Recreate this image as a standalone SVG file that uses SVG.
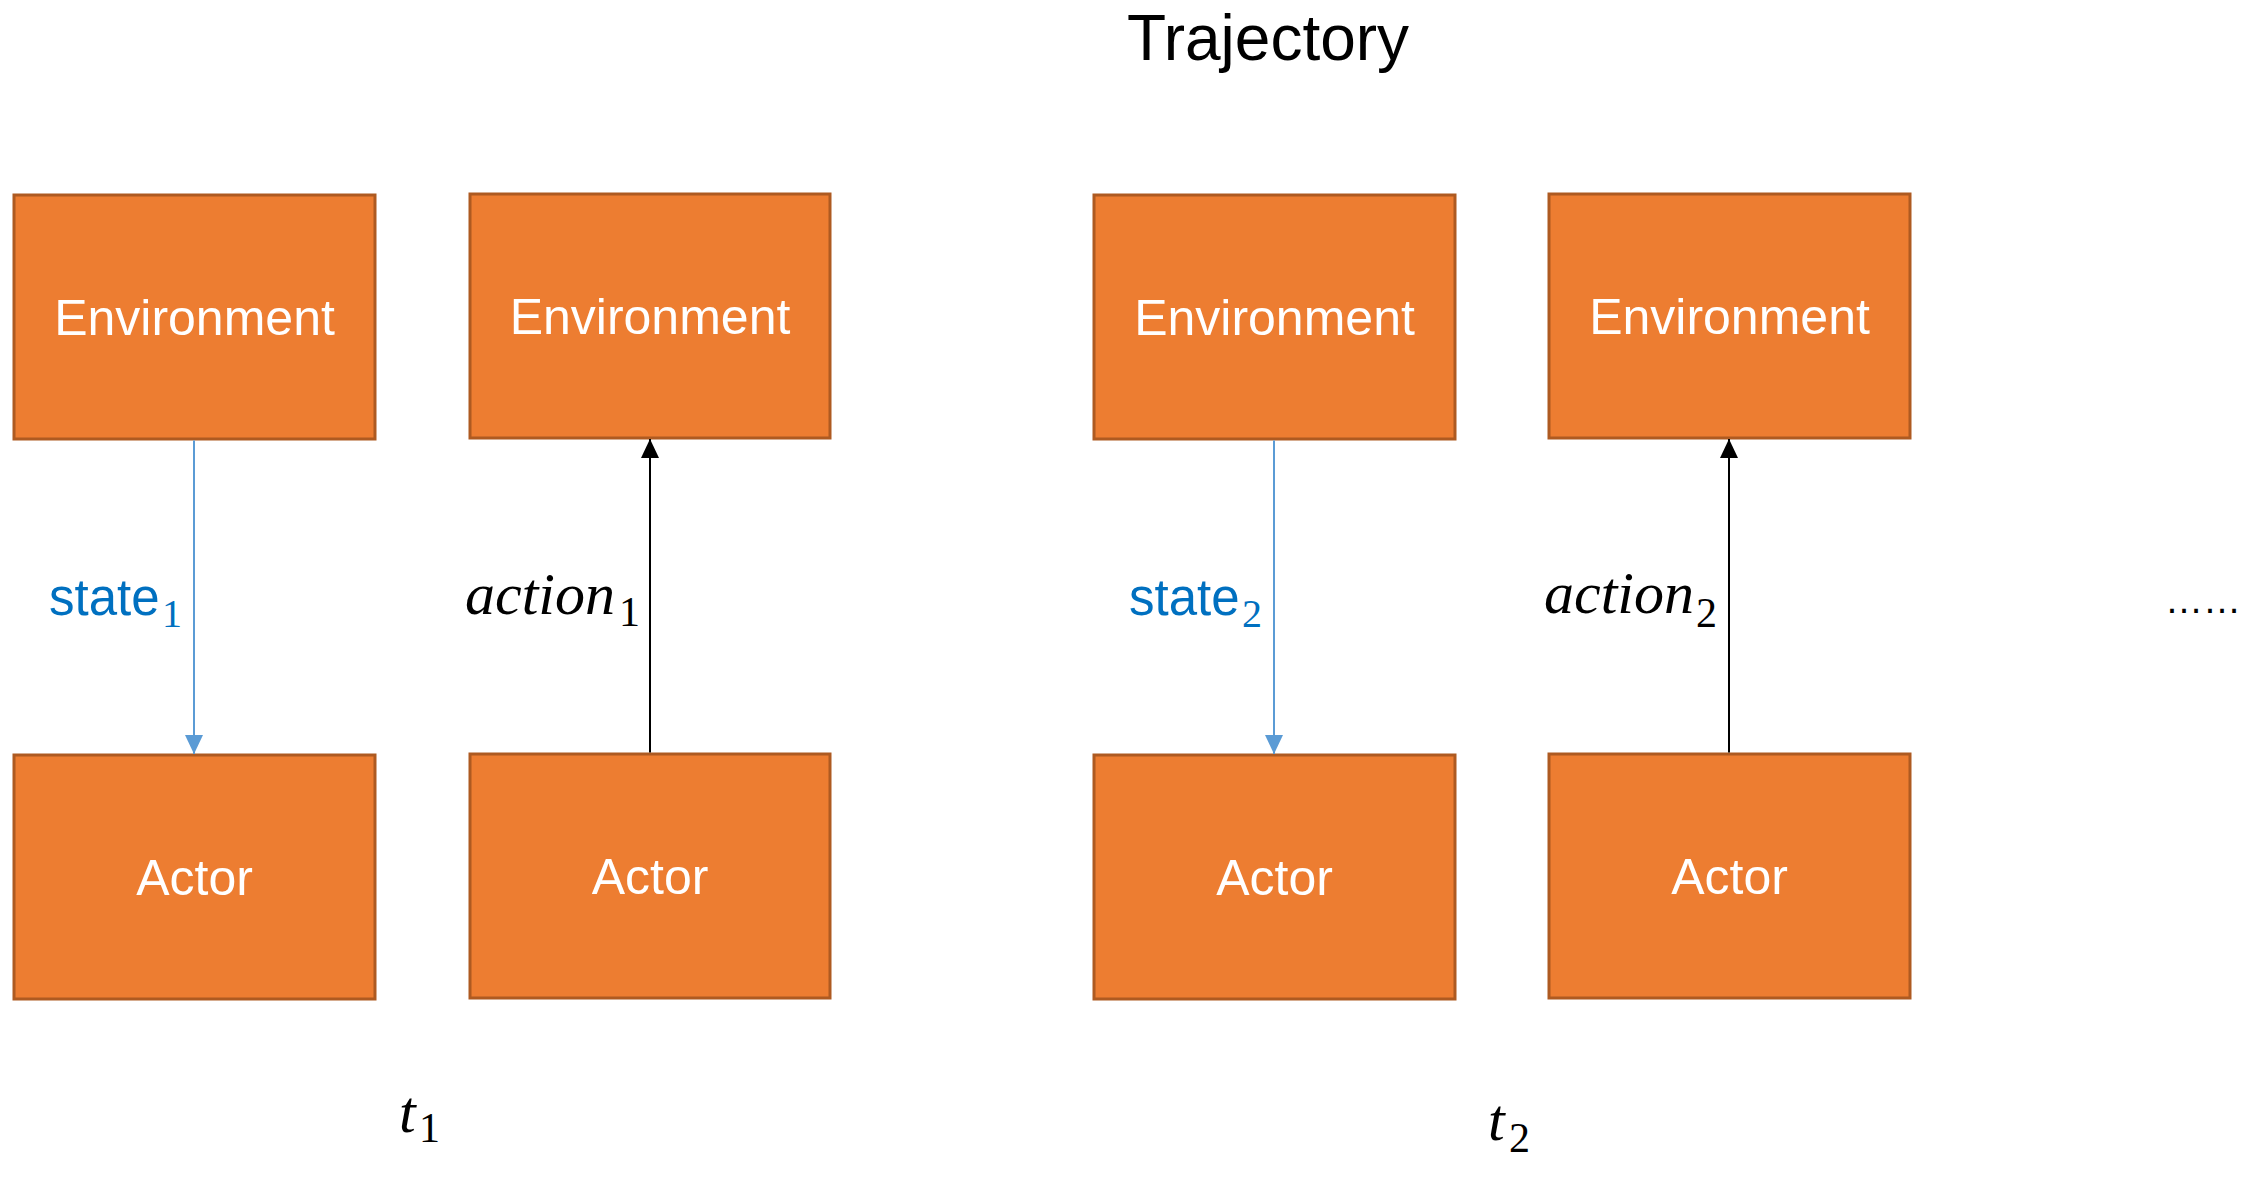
<svg xmlns="http://www.w3.org/2000/svg" width="2245" height="1180" viewBox="0 0 2245 1180">
<defs>
<style>
.box{fill:#ed7d31;stroke:#ae5a21;stroke-width:3}
.lbl{font-family:"Liberation Sans",Arial,sans-serif;font-size:50px;fill:#ffffff;text-anchor:middle}
.st{font-family:"Liberation Sans",Arial,sans-serif;font-size:51px;fill:#0070c0}
.math{font-family:"Liberation Serif","Times New Roman",serif;font-style:italic;font-size:60px;fill:#000000}
.sub{font-family:"Liberation Serif","Times New Roman",serif;font-style:normal;font-size:42px}
.ssub{font-family:"Liberation Serif","Times New Roman",serif;font-size:40px;fill:#0070c0}
.blue{stroke:#5b9bd5;stroke-width:2;fill:none}
.black{stroke:#000000;stroke-width:2;fill:none}
</style>
<marker id="ab" markerUnits="userSpaceOnUse" markerWidth="20" markerHeight="20" viewBox="0 0 20 20" refX="19" refY="10" orient="auto">
<path d="M0,1 L19,10 L0,19 Z" fill="#5b9bd5"/>
</marker>
<marker id="ak" markerUnits="userSpaceOnUse" markerWidth="20" markerHeight="20" viewBox="0 0 20 20" refX="19" refY="10" orient="auto">
<path d="M0,1 L19,10 L0,19 Z" fill="#000000"/>
</marker>
</defs>
<rect width="2245" height="1180" fill="#ffffff"/>
<text x="1268" y="60" font-family="'Liberation Sans',Arial,sans-serif" font-size="64" text-anchor="middle" fill="#000">Trajectory</text>

<g id="env1"><rect class="box" x="14" y="195" width="361" height="244"/><text class="lbl" x="194.5" y="335">Environment</text></g>
<g id="actor1"><rect class="box" x="14" y="755" width="361" height="244"/><text class="lbl" x="194.5" y="895">Actor</text></g>
<g id="env2"><rect class="box" x="470" y="194" width="360" height="244"/><text class="lbl" x="650" y="334">Environment</text></g>
<g id="actor2"><rect class="box" x="470" y="754" width="360" height="244"/><text class="lbl" x="650" y="894">Actor</text></g>
<g id="env3"><rect class="box" x="1094" y="195" width="361" height="244"/><text class="lbl" x="1274.5" y="335">Environment</text></g>
<g id="actor3"><rect class="box" x="1094" y="755" width="361" height="244"/><text class="lbl" x="1274.5" y="895">Actor</text></g>
<g id="env4"><rect class="box" x="1549" y="194" width="361" height="244"/><text class="lbl" x="1729.5" y="334">Environment</text></g>
<g id="actor4"><rect class="box" x="1549" y="754" width="361" height="244"/><text class="lbl" x="1729.5" y="894">Actor</text></g>

<g id="connectors">
<line class="blue" x1="194" y1="440.5" x2="194" y2="754" marker-end="url(#ab)"/>
<line class="blue" x1="1274" y1="440.5" x2="1274" y2="754" marker-end="url(#ab)"/>
<line class="black" x1="650" y1="752.5" x2="650" y2="439" marker-end="url(#ak)"/>
<line class="black" x1="1729" y1="752.5" x2="1729" y2="439" marker-end="url(#ak)"/>
</g>

<g id="labels">
<text class="st" x="49" y="615">state<tspan class="ssub" x="162" y="627">1</tspan></text>
<text class="st" x="1129" y="615">state<tspan class="ssub" x="1242" y="627">2</tspan></text>
<text class="math" x="465" y="614">action<tspan class="sub" x="619" y="626">1</tspan></text>
<text class="math" x="1544" y="613">action<tspan class="sub" x="1696" y="627">2</tspan></text>
<text class="math" x="399" y="1132">t<tspan class="sub" x="419" y="1142">1</tspan></text>
<text class="math" x="1488" y="1140">t<tspan class="sub" x="1509" y="1152">2</tspan></text>
<text x="2165" y="613" font-family="'Liberation Sans',Arial,sans-serif" font-size="38" fill="#000">……</text>
</g>
</svg>
